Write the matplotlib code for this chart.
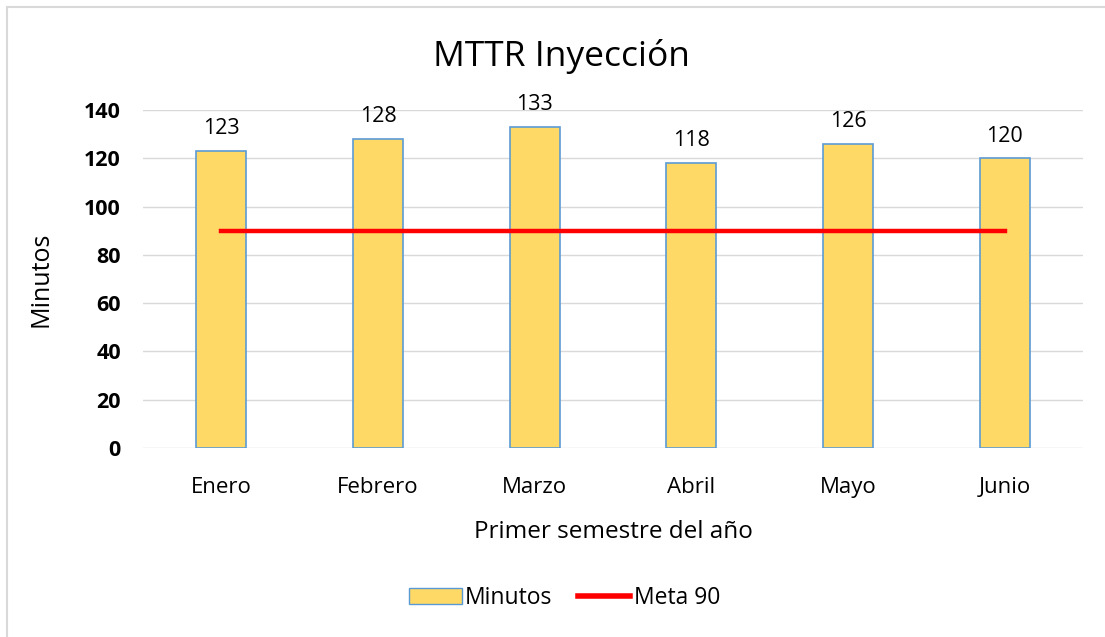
import matplotlib.pyplot as plt
from matplotlib.lines import Line2D

plt.rcParams['font.family'] = ['Open Sans', 'DejaVu Sans']

# datos
meses = ["Enero", "Febrero", "Marzo", "Abril", "Mayo", "Junio"]
minutos = [123, 128, 133, 118, 126, 120]
meta = [90, 90, 90, 90, 90, 90]

fig = plt.figure(figsize=(11.05, 6.37), dpi=100)
ax = fig.add_axes([0.1294, 0.2967, 0.8506, 0.5306])

x = list(range(len(meses)))
ax.bar(x, minutos, width=0.32, color="#FFD966", edgecolor="#5B9BD5",
       linewidth=1.2, label="Minutos", zorder=2)
ax.plot(x, meta, color="#FF0000", linewidth=3.2, label="Meta 90", zorder=3)

# etiquetas de valor
for xi, v in zip(x, minutos):
    ax.annotate(str(v), (xi, v), xytext=(0, 16), textcoords="offset points",
                ha="center", va="center", fontsize=15.5)

ax.set_xlim(-0.5, len(meses) - 0.5)
ax.set_ylim(0, 140)
ax.set_yticks(range(0, 141, 20))
ax.set_xticks(x)
ax.set_xticklabels(meses, fontsize=16)
for t in ax.get_yticklabels():
    t.set_fontweight("bold")
    t.set_fontsize(15.5)
ax.tick_params(length=0)
ax.tick_params(axis="x", pad=21)
ax.tick_params(axis="y", pad=16)
ax.grid(axis="y", color="#D9D9D9", linewidth=1, zorder=0)
ax.set_axisbelow(True)
for s in ax.spines.values():
    s.set_visible(False)

fig.text(0.508, 1 - 57 / 637, "MTTR Inyección", fontsize=25.5, ha="center", va="center")
ax.set_xlabel("Primer semestre del año", fontsize=17.5, labelpad=16)
ax.set_ylabel("Minutos", fontsize=18, labelpad=22)

handles = [plt.Rectangle((0, 0), 1, 1, facecolor="#FFD966", edgecolor="#5B9BD5"),
           Line2D([0], [0], color="#FF0000", linewidth=4)]
fig.legend(handles, ["Minutos", "Meta 90"], loc="center", bbox_to_anchor=(0.511, 0.061),
           ncol=2, frameon=False, fontsize=16.5, handlelength=2.3, handletextpad=0.15,
           columnspacing=1.1)

# marco
fig.add_artist(Line2D([7 / 1105, 1], [1 - 7 / 637, 1 - 7 / 637], color="#D9D9D9", linewidth=1.5))
fig.add_artist(Line2D([7 / 1105, 7 / 1105], [0, 1 - 7 / 637], color="#D9D9D9", linewidth=1.5))

fig.savefig("out.png", dpi=100)
